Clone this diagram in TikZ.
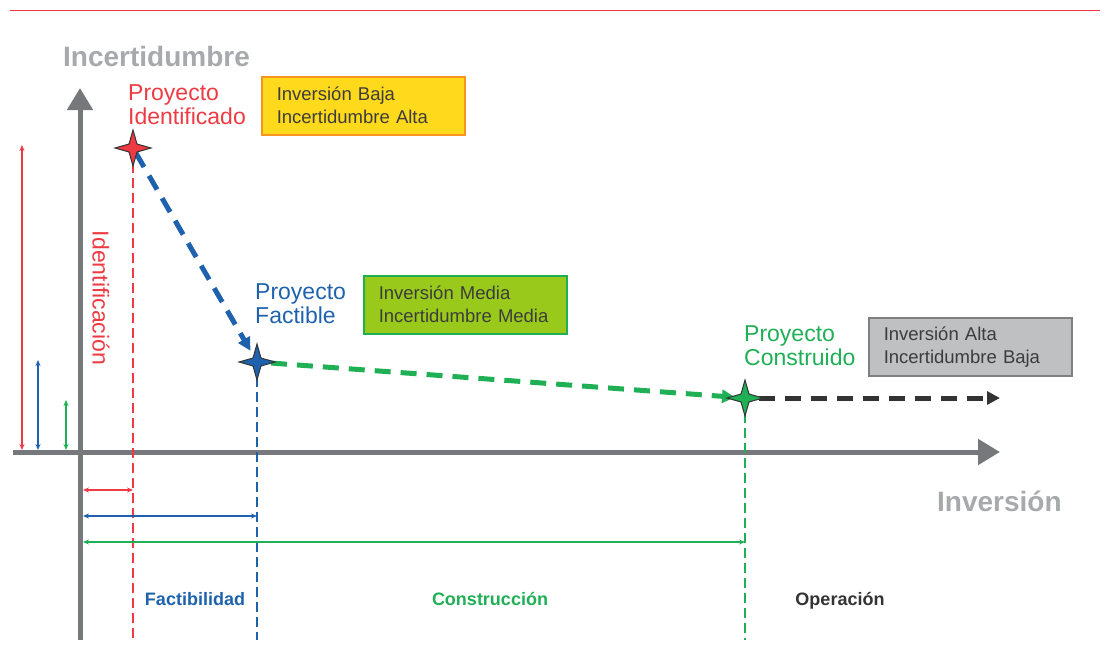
\documentclass[tikz,border=0pt]{standalone}
\usepackage{fontspec}
\setmainfont{Liberation Sans}
\usetikzlibrary{arrows.meta,shapes.geometric,positioning}
\definecolor{rojo}{HTML}{EE3A43}
\definecolor{azul}{HTML}{1E62AE}
\definecolor{verde}{HTML}{1FAF55}
\definecolor{oscuro}{HTML}{333333}
\definecolor{ejes}{HTML}{77787B}
\definecolor{titulo}{HTML}{A7A9AC}
\definecolor{amarillo}{HTML}{FFD91C}
\definecolor{naranja}{HTML}{F7941D}
\definecolor{lima}{HTML}{99CA1B}
\definecolor{grisclaro}{HTML}{BFC0C2}
\definecolor{gris}{HTML}{7F7F7F}
\definecolor{texto}{HTML}{3C3C3C}

\begin{document}
\begin{tikzpicture}[x=1pt, y=-1pt,
  hito/.style={star, star points=4, star point ratio=3.2, minimum size=36pt, inner sep=0pt, draw=black!80, line width=1pt},
  etapa/.style={font=\fontsize{23}{24}\selectfont, align=left, inner sep=0pt, anchor=west},
  caja/.style={line width=1.5pt, anchor=north west, minimum height=58pt, text width=173pt, inner xsep=15pt, align=left, text=texto, font=\fontsize{18.5}{23}\selectfont},
  eje/.style={ejes, line width=5pt, -{Triangle[length=22pt,width=25pt]}},
  tramo/.style={line width=5pt, dash pattern=on 16pt off 10pt, -{Triangle[length=13pt,width=13pt]}},
  limite/.style={line width=2.5pt, dash pattern=on 10pt off 5pt},
  cota/.style={line width=1.5pt, {Stealth[length=6pt,width=5pt]}-{Stealth[length=6pt,width=5pt]}},
  fase/.style={font=\fontsize{18}{20}\selectfont\bfseries, inner sep=0pt, anchor=base},
  rotulo/.style={text=titulo, font=\fontsize{28}{30}\selectfont\bfseries, inner sep=0pt, anchor=base west}]

  \useasboundingbox (0,0) rectangle (1112,664);

  \coordinate (la) at (10,10);
  \coordinate (lb) at (1100,10);
  \draw[rojo, line width=1pt] (la) -- (lb);

  \coordinate (yb) at (80,640);
  \coordinate (yt) at (80,88);
  \coordinate (xi) at (13,452);
  \coordinate (xd) at (1000,452);
  \draw[eje] (yb) -- (yt);
  \draw[eje] (xi) -- (xd);

  \node[rotulo] (tinc) at (63,66) {Incertidumbre};
  \node[rotulo] (tinv) at (937,511) {Inversión};

  \coordinate (pi) at (133,148);
  \coordinate (pf) at (257,362);
  \coordinate (pc) at (745,398);
  \coordinate (fin) at (1000,398);
  \coordinate (bi) at (133,640);
  \coordinate (bf) at (257,640);
  \coordinate (bc) at (745,640);

  \draw[limite, rojo] (pi) -- (bi);
  \draw[limite, azul] (pf) -- (bf);
  \draw[limite, verde] (pc) -- (bc);

  \draw[tramo, azul, shorten <=6pt, shorten >=13pt] (pi) -- (pf);
  \draw[tramo, verde, shorten <=14pt, shorten >=10pt] (pf) -- (pc);
  \draw[tramo, oscuro, shorten <=14pt] (pc) -- (fin);

  \node[hito, fill=rojo] (si) at (pi) {};
  \node[hito, fill=azul] (sf) at (pf) {};
  \node[hito, fill=verde] (sc) at (pc) {};

  \foreach \n/\c/\x/\y in {i/rojo/22/145, f/azul/38/360, c/verde/66/400}{
    \coordinate (v\n0) at (\x,450);
    \coordinate (v\n1) at (\x,\y);
    \draw[cota, \c] (v\n0) -- (v\n1);
  }
  \foreach \n/\c/\x/\y in {i/rojo/133/490, f/azul/257/516, c/verde/745/542}{
    \coordinate (h\n0) at (83,\y);
    \coordinate (h\n1) at (\x,\y);
    \draw[cota, \c] (h\n0) -- (h\n1);
  }

  \node[etapa, text=rojo] (ti) at (128,105) {Proyecto\\Identificado};
  \node[etapa, text=azul] (tf) at (255,304) {Proyecto\\Factible};
  \node[etapa, text=verde] (tc) at (744,346) {Proyecto\\Construido};
  \node[rotate=-90, text=rojo, font=\fontsize{23}{24}\selectfont, inner sep=0pt] (tid) at (101,298) {Identificación};

  \node[caja, draw=naranja, fill=amarillo] (cb) at (261,76) {Inversión Baja\\Incertidumbre Alta};
  \node[caja, draw=verde, fill=lima] (cm) at (363,275) {Inversión Media\\Incertidumbre Media};
  \node[caja, draw=gris, fill=grisclaro] (ca) at (868,317) {Inversión Alta\\Incertidumbre Baja};

  \node[fase, text=azul] (ff) at (195,605) {Factibilidad};
  \node[fase, text=verde] (fc) at (490,605) {Construcción};
  \node[fase, text=oscuro] (fo) at (840,605) {Operación};
\end{tikzpicture}
\end{document}
